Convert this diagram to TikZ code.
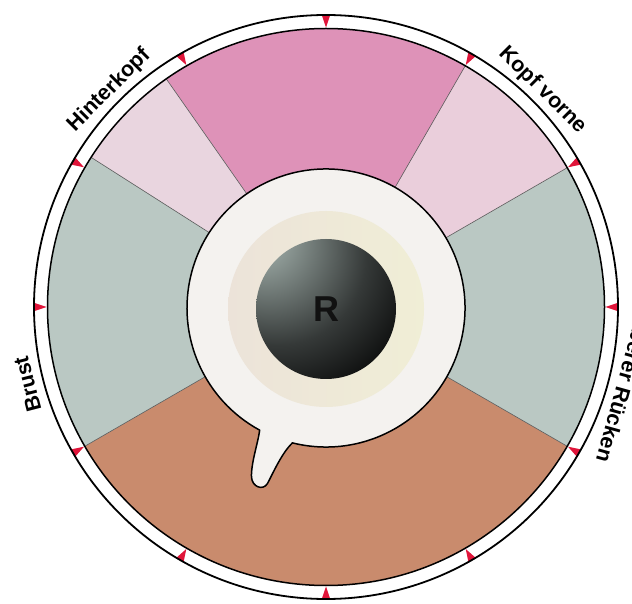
\documentclass[tikz,border=0pt]{standalone}
\usepackage{fontspec}
\newfontfamily\labfont{Liberation Sans Bold}
\usetikzlibrary{calc}
\definecolor{pinkc}{HTML}{DE92B8}
\definecolor{lpinkL}{HTML}{E9D5DF}
\definecolor{lpinkR}{HTML}{EACEDB}
\definecolor{grayc}{HTML}{BAC8C3}
\definecolor{brownc}{HTML}{C98B6D}
\definecolor{tickred}{HTML}{E0153A}
\definecolor{bubblec}{HTML}{F4F2EF}
\definecolor{beigeL}{HTML}{ECE3D9}
\definecolor{beigeR}{HTML}{F0EED6}
\definecolor{ballhi}{HTML}{A9B7B3}
\definecolor{ballhi2}{HTML}{8C9894}
\definecolor{ballmid}{HTML}{353938}
\definecolor{rdark}{HTML}{111111}
\definecolor{sline}{HTML}{5A5A5A}
\pgfdeclareradialshading{rball}{\pgfpoint{-26bp}{28bp}}{color(0bp)=(ballhi); color(10bp)=(ballhi2); color(32bp)=(ballmid); color(52bp)=(black); color(100bp)=(black)}
\begin{document}
\begin{tikzpicture}[x=1pt,y=1pt,
  sectorline/.style={draw=sline,line width=0.6pt},
  bubble/.style={fill=bubblec,draw=black,line width=1.5pt,line join=round},
  lab/.style={font=\labfont\fontsize{21.5}{21.5}\selectfont,anchor=base,inner sep=0pt,text=black},
  tick/.style={fill=tickred}]
\useasboundingbox (0,0) rectangle (632,603);
\fill[white] (0,0) rectangle (632,603);
\coordinate (C) at (326,296);
\def\Ri{278.5}
\def\Ro{292}
% sectors
\fill[brownc] (C) -- ++(210:\Ri) arc[start angle=210,end angle=330,radius=\Ri] -- cycle;
\fill[grayc] (C) -- ++(-30:\Ri) arc[start angle=-30,end angle=30,radius=\Ri] -- cycle;
\fill[lpinkR] (C) -- ++(30:\Ri) arc[start angle=30,end angle=60,radius=\Ri] -- cycle;
\fill[pinkc] (C) -- ++(60:\Ri) arc[start angle=60,end angle=125,radius=\Ri] -- cycle;
\fill[lpinkL] (C) -- ++(125:\Ri) arc[start angle=125,end angle=147.5,radius=\Ri] -- cycle;
\fill[grayc] (C) -- ++(147.5:\Ri) arc[start angle=147.5,end angle=210,radius=\Ri] -- cycle;
\foreach \a in {-30,30,60,125,147.5,210} \draw[sectorline] (C) -- ++(\a:\Ri);
% ring
\fill[white,even odd rule] (C) circle[radius=\Ro] (C) circle[radius=\Ri];
\foreach \a in {0,30,...,330}
  \fill[tick,shift={(C)},rotate=\a] (\Ro,4.2) -- (\Ri+1,0) -- (\Ro,-4.2) -- cycle;
\draw[line width=1.8pt] (C) circle[radius=\Ro];
\draw[line width=1.5pt] (C) circle[radius=\Ri];
% bubble with tail
\coordinate (B) at (326,295);
\draw[bubble] ($(B)+(256:139)$) arc[start angle=256,end angle=601.5,radius=139]
  .. controls (258,160) and (251,140) .. (251.5,126)
  .. controls (252,116) and (263,112) .. (267.5,119.5)
  .. controls (274,132) and (282,150) .. cycle;
% beige ring
\shade[left color=beigeL,right color=beigeR] (326,294) circle[radius=98];
% ball
\shade[shading=rball] (326,294) circle[radius=70];
\node[font=\labfont\fontsize{36}{36}\selectfont,text=rdark,inner sep=0pt] (r) at (326,294) {R};
% labels
\node[lab,rotate=45] (hinterkopf) at ($(C)+(135:301)$) {Hinterkopf};
\node[lab,rotate=-45] (kopfvorne) at ($(C)+(45:301)$) {Kopf vorne};
\node[lab,rotate=104.5] (brust) at ($(C)+(194.5:301)$) {Brust};
\node[lab,rotate=-105.5] (ruecken) at ($(C)+(344.5:301)$) {oberer Rücken};
\end{tikzpicture}
\end{document}
